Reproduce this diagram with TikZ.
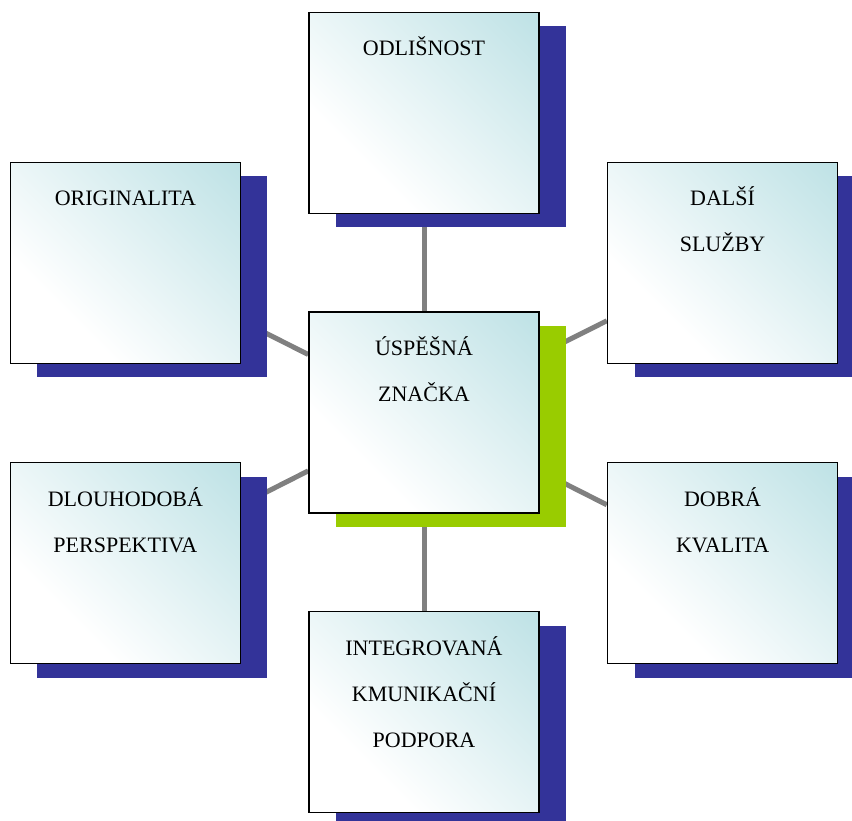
\documentclass[tikz,border=0pt]{standalone}
\usepackage{fontspec}
\setmainfont{Liberation Serif}
\usetikzlibrary{positioning,shadows,backgrounds}
\definecolor{cardcyan}{RGB}{184,223,227}
\definecolor{shadowblue}{HTML}{333399}
\definecolor{shadowgreen}{HTML}{99CC00}
\definecolor{linkgray}{HTML}{808080}
\pgfdeclarehorizontalshading{cardshade}{100bp}{color(0bp)=(white); color(32bp)=(white); color(90bp)=(cardcyan); color(100bp)=(cardcyan)}

\begin{document}
\begin{tikzpicture}[x=1pt, y=1pt,
    card/.style={rectangle, draw=black, line width=1.6pt, shade, shading=cardshade,
                 shading angle=45, minimum width=230pt, minimum height=201pt, inner sep=0pt,
                 drop shadow={shadow xshift=27pt, shadow yshift=-14pt, fill=#1,
                              opacity=1, draw=none}},
    card/.default=shadowblue,
    lbl/.style={font=\fontsize{22}{46}\selectfont, align=center, inner sep=0pt},
    link/.style={draw=linkgray, line width=5pt}
]
\useasboundingbox (0,0) rectangle (852,821);

% Centre
\node[card=shadowgreen] (brand) at (424,408.5) {};
\node[lbl, below=12pt of brand.north] (brand-t) {\strut ÚSPĚŠNÁ\\ZNAČKA};

% Top and bottom
\node[card, above=97pt of brand] (odl) {};
\node[lbl, below=12pt of odl.north] (odl-t) {\strut ODLIŠNOST};
\node[card, below=97pt of brand] (int) {};
\node[lbl, below=12pt of int.north] (int-t) {\strut INTEGROVANÁ\\KMUNIKAČNÍ\\PODPORA};

% Left side
\node[card, above left=-53pt and 67pt of brand] (ori) {};
\node[lbl, below=12pt of ori.north] (ori-t) {\strut ORIGINALITA};
\node[card, below left=-52pt and 67pt of brand] (dlo) {};
\node[lbl, below=12pt of dlo.north] (dlo-t) {\strut DLOUHODOBÁ\\PERSPEKTIVA};

% Right side
\node[card, above right=-53pt and 67pt of brand] (dal) {};
\node[lbl, below=12pt of dal.north] (dal-t) {\strut DALŠÍ\\SLUŽBY};
\node[card, below right=-52pt and 67pt of brand] (dob) {};
\node[lbl, below=12pt of dob.north] (dob-t) {\strut DOBRÁ\\KVALITA};

% Connectors behind the cards
\begin{scope}[on background layer]
  \foreach \n in {odl,int,ori,dlo,dal,dob}
    \draw[link] (brand) -- (\n);
\end{scope}

\end{tikzpicture}
\end{document}
